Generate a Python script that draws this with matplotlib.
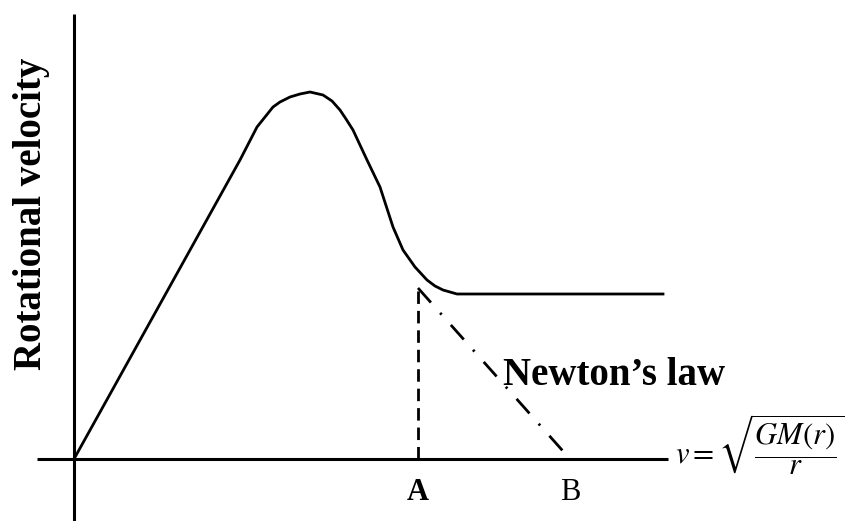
import matplotlib
matplotlib.use("Agg")
import matplotlib.pyplot as plt
import numpy as np

plt.rcParams["mathtext.fontset"] = "stix"

# rotation curve, radius vs velocity (arbitrary units)
radius = [0.0, 3.32, 3.66, 3.98, 4.12, 4.32, 4.52, 4.72, 4.98, 5.16, 5.32,
          5.44, 5.58, 5.86, 6.12, 6.38, 6.58, 6.82, 7.06, 7.22, 7.38, 7.52,
          7.66, 11.78]
velocity = [0.0, 5.98, 6.64, 7.04, 7.14, 7.24, 7.30, 7.34, 7.28, 7.16, 6.98,
            6.80, 6.58, 5.98, 5.44, 4.64, 4.18, 3.84, 3.58, 3.46, 3.38, 3.34,
            3.30, 3.30]

# Newtonian (keplerian) fall-off between A and B
r_a = 6.88
r_b = 9.92
v_a = 3.42
newton_r = [r_a, r_b]
newton_v = [v_a, 0.0]

fig = plt.figure(figsize=(8.49, 5.21), dpi=100)
ax = fig.add_axes([0, 0, 1, 1])
ax.set_xlim(-1.48, 15.5)
ax.set_ylim(-1.24, 9.18)
ax.axis("off")

# hand drawn axes
ax.plot([-0.74, 11.88], [0, 0], color="black", lw=2.2, solid_capstyle="butt")
ax.plot([0, 0], [-1.3, 8.9], color="black", lw=2.2, solid_capstyle="butt")

ax.plot(radius, velocity, color="black", lw=2.0, solid_joinstyle="round")
ax.plot([r_a, r_a], [0, v_a], color="black", lw=2.0, dashes=(4.5, 2.5))
ax.plot(newton_r, newton_v, color="black", lw=2.0, dashes=(7, 5, 0.8, 5))

ax.text(-0.84, 4.9, "Rotational velocity", rotation=90, ha="center", va="center",
        family="Liberation Serif", weight="bold", fontsize=28)
ax.text(8.58, 1.48, "Newton\u2019s law", ha="left", va="baseline",
        family="Liberation Serif", weight="bold", fontsize=28)
ax.text(r_a, -0.66, "A", ha="center", va="center",
        family="Liberation Serif", weight="bold", fontsize=22)
ax.text(r_b, -0.66, "B", ha="center", va="center",
        family="Liberation Serif", fontsize=22)
ax.text(12.02, 0.28, r"$v=\sqrt{\dfrac{GM(r)}{r}}$", ha="left", va="center",
        fontsize=22)

fig.savefig("out.png", dpi=100)
